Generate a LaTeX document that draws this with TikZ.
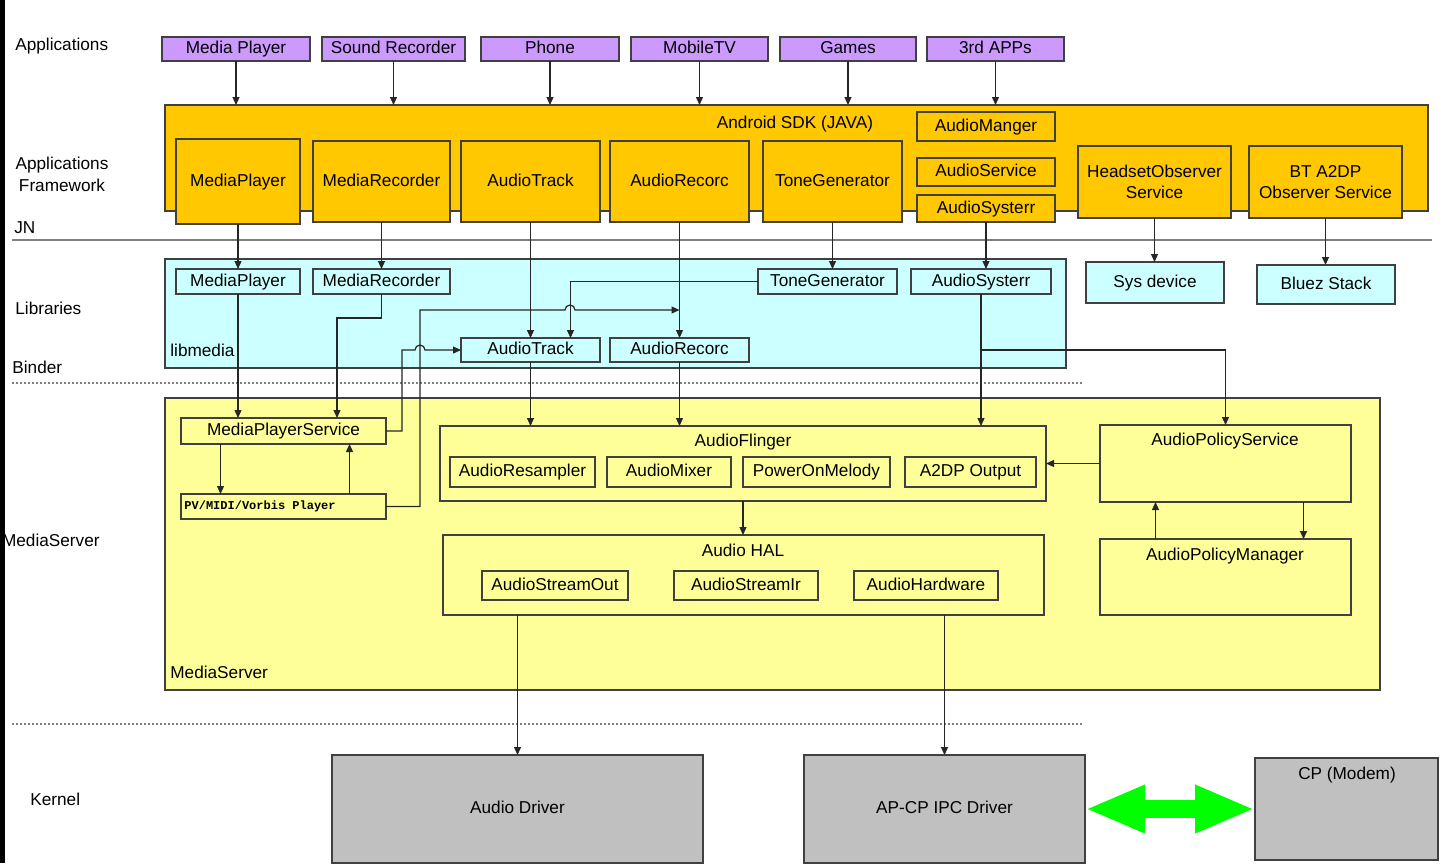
\documentclass[tikz,border=0pt]{standalone}
\usepackage{fontspec}
\setmainfont{Liberation Sans}
\newfontfamily\pvfont{Liberation Mono}
\usetikzlibrary{arrows.meta,fit}
\definecolor{appviolet}{RGB}{204,153,255}
\definecolor{sdkorange}{RGB}{255,200,0}
\definecolor{libcyan}{RGB}{204,255,255}
\definecolor{srvyellow}{RGB}{255,255,153}
\definecolor{kerngray}{RGB}{192,192,192}
\definecolor{edge}{RGB}{64,64,64}
\begin{document}
\begin{tikzpicture}[
    x=0.5pt, y=-0.5pt,
    font=\fontsize{8.6}{10.5}\selectfont,
    box/.style={draw=edge,line width=0.8pt,inner sep=0pt,outer sep=0pt},
    app/.style={box,fill=appviolet},
    fw/.style={box,fill=sdkorange},
    lib/.style={box,fill=libcyan},
    srv/.style={box,fill=srvyellow},
    kern/.style={box,fill=kerngray},
    txt/.style={inner sep=0pt,text height=6.3pt,text depth=1.8pt},
    txttwo/.style={inner sep=0pt,align=center},
    side/.style={inner sep=0pt,anchor=west,align=center},
    title/.style={inner sep=0pt,text height=6.3pt,text depth=1.8pt},
    pvtext/.style={anchor=west,xshift=1.5pt,inner sep=0pt,
        font=\pvfont\bfseries\fontsize{6}{7}\selectfont},
    arrow/.style={-{Triangle[length=4pt,width=3.5pt]},line width=0.6pt,draw=black!85},
    bigarrow/.style={{Triangle[length=30pt,width=22pt]}-{Triangle[length=30pt,width=22pt]},
        line width=9pt,draw=green},
    layer/.style={gray,line width=0.6pt,dash pattern=on 1.2pt off 0.8pt}
]
\useasboundingbox (0,0) rectangle (1446,863);
\clip (0,0) rectangle (1446,863);
\fill[white] (0,0) rectangle (1446,863);

\node[side] (lapps) at (15,46) {Applications};
\node[txttwo,font=\fontsize{8.6}{11}\selectfont] (lframe) at (62,174) {Applications\\Framework};
\node[side] (ljn) at (14,228) {JN};
\node[side] (llibs) at (15,308) {Libraries};
\node[side] (lbinder) at (12,367) {Binder};
\node[side,anchor=east] (lserver) at (100,540) {MediaServer};
\node[side] (lkernel) at (30,799) {Kernel};

\draw[gray,line width=1pt] (12,240) -- (1432,240);
\draw[layer] (12,383) -- (1082,383);
\draw[layer] (12,724) -- (1082,724);

\node[app,fit={(162,37)(310,61)},label={[txt]center:Media Player}] (aplayer) {};
\node[app,fit={(322,37)(465,61)},label={[txt]center:Sound Recorder}] (arecorder) {};
\node[app,fit={(481,37)(619,61)},label={[txt]center:Phone}] (aphone) {};
\node[app,fit={(631,37)(768,61)},label={[txt]center:MobileTV}] (atv) {};
\node[app,fit={(780,37)(916,61)},label={[txt]center:Games}] (agames) {};
\node[app,fit={(927,37)(1064,61)},label={[txt]center:3rd APPs}] (athird) {};

\node[fw,fit={(165,105)(1428,211)}] (sdk) {};
\node[title] (sdklabel) at (795,124) {Android SDK (JAVA)};
\node[fw,fit={(176,139)(300,224)},label={[txt]center:MediaPlayer}] (fwplayer) {};
\node[fw,fit={(313,141)(450,222)},label={[txt]center:MediaRecorder}] (fwrec) {};
\node[fw,fit={(461,141)(600,222)},label={[txt]center:AudioTrack}] (fwtrack) {};
\node[fw,fit={(610,141)(749,222)},label={[txt]center:AudioRecorc}] (fwarec) {};
\node[fw,fit={(763,141)(902,222)},label={[txt]center:ToneGenerator}] (fwtone) {};
\node[fw,fit={(917,112)(1055,141)},label={[txt]center:AudioManger}] (fwmgr) {};
\node[fw,fit={(917,158)(1055,186)},label={[txt]center:AudioService}] (fwsvc) {};
\node[fw,fit={(917,195)(1055,222)},label={[txt]center:AudioSysterr}] (fwsys) {};
\node[fw,fit={(1078,146)(1231,218)},label={[txttwo]center:{HeadsetObserver\\Service}}] (fwhead) {};
\node[fw,fit={(1249,146)(1402,218)},label={[txttwo]center:{BT A2DP\\Observer Service}}] (fwbt) {};

\node[lib,fit={(165,259)(1066,368)}] (libbox) {};
\node[side] (liblabel) at (170,350) {libmedia};
\node[lib,fit={(176,269)(300,294)},label={[txt]center:MediaPlayer}] (libplayer) {};
\node[lib,fit={(313,269)(450,294)},label={[txt]center:MediaRecorder}] (librec) {};
\node[lib,fit={(758,269)(897,294)},label={[txt]center:ToneGenerator}] (libtone) {};
\node[lib,fit={(911,269)(1051,294)},label={[txt]center:AudioSysterr}] (libsys) {};
\node[lib,fit={(461,338)(600,362)},label={[txt]center:AudioTrack}] (libtrack) {};
\node[lib,fit={(610,338)(749,362)},label={[txt]center:AudioRecorc}] (libarec) {};
\node[lib,fit={(1086,262)(1224,303)},label={[txt]center:Sys device}] (sysdev) {};
\node[lib,fit={(1257,265)(1395,304)},label={[txt]center:Bluez Stack}] (bluez) {};

\node[srv,fit={(165,398)(1380,690)}] (srvbox) {};
\node[side] (srvlabel) at (170,672) {MediaServer};
\node[srv,fit={(181,418)(386,444)},label={[txt]center:MediaPlayerService}] (mps) {};
\node[srv,fit={(181,494)(386,519)},label={[pvtext]west:PV/MIDI/Vorbis Player}] (pv) {};
\node[srv,fit={(440,426)(1046,501)}] (flinger) {};
\node[title] (flingerlabel) at (743,442) {AudioFlinger};
\node[srv,fit={(450,457)(595,487)},label={[txt]center:AudioResampler}] (resampler) {};
\node[srv,fit={(607,457)(731,487)},label={[txt]center:AudioMixer}] (mixer) {};
\node[srv,fit={(743,457)(890,487)},label={[txt]center:PowerOnMelody}] (melody) {};
\node[srv,fit={(905,457)(1036,487)},label={[txt]center:A2DP Output}] (a2dp) {};
\node[srv,fit={(443,535)(1044,615)}] (hal) {};
\node[title] (hallabel) at (743,552) {Audio HAL};
\node[srv,fit={(482,571)(628,600)},label={[txt]center:AudioStreamOut}] (sout) {};
\node[srv,fit={(674,571)(818,600)},label={[txt]center:AudioStreamIr}] (sin) {};
\node[srv,fit={(854,571)(998,600)},label={[txt]center:AudioHardware}] (hw) {};
\node[srv,fit={(1100,425)(1351,502)}] (aps) {};
\node[title] (apslabel) at (1225,441) {AudioPolicyService};
\node[srv,fit={(1100,539)(1351,615)}] (apm) {};
\node[title] (apmlabel) at (1225,556) {AudioPolicyManager};

\node[kern,fit={(332,755)(703,863)},label={[txt]center:Audio Driver}] (driver) {};
\node[kern,fit={(804,755)(1085,863)},label={[txt]center:AP-CP IPC Driver}] (ipc) {};
\node[kern,fit={(1255,758)(1438,860)}] (cp) {};
\node[title] (cplabel) at (1347,775) {CP (Modem)};

\foreach \a in {aplayer,arecorder,aphone,atv,agames,athird}
    \draw[arrow] (\a.south) -- (\a.south |- sdk.north);

\draw[arrow] (fwplayer.south) -- (fwplayer.south |- libplayer.north);
\draw[arrow] (fwrec.south) -- (fwrec.south |- librec.north);
\draw[arrow] (fwtrack.south) -- (fwtrack.south |- libtrack.north);
\draw[arrow] (fwarec.south) -- (fwarec.south |- libarec.north);
\draw[arrow] (fwtone.south) -- (fwtone.south |- libtone.north);
\draw[arrow] (fwsys.south) -- (fwsys.south |- libsys.north);
\draw[arrow] (fwhead.south) -- (fwhead.south |- sysdev.north);
\draw[arrow] (fwbt.south) -- (fwbt.south |- bluez.north);

\draw[arrow] (libtone.west) -| ([xshift=20pt]libtrack.north);
\draw[arrow] (pv.east) -| (420,310) -- (565,310)
    arc[start angle=180,end angle=360,radius=5] -- (libarec.north |- 0,310);
\draw[arrow] (mps.east) -| (402,350) -- (415,350)
    arc[start angle=180,end angle=360,radius=5] -- (libtrack.west);
\draw[arrow] (libplayer.south) -- (libplayer.south |- mps.north);
\draw[arrow] (librec.south) |- (337,318) -- (337,418);
\draw[arrow] (libtrack.south) -- (libtrack.south |- flinger.north);
\draw[arrow] (libarec.south) -- (libarec.south |- flinger.north);
\draw[arrow] (libsys.south) -- (libsys.south |- flinger.north);
\draw[arrow] (libsys.south |- libtrack.east) -| (aps.north);

\draw[arrow] ([xshift=-31.5pt]mps.south) -- ([xshift=-31.5pt]pv.north);
\draw[arrow] ([xshift=33pt]pv.north) -- ([xshift=33pt]mps.south);
\draw[arrow] (aps.west) -- (aps.west -| flinger.east);
\draw[arrow] ([xshift=-35pt]apm.north) -- ([xshift=-35pt]aps.south);
\draw[arrow] ([xshift=39pt]aps.south) -- ([xshift=39pt]apm.north);
\draw[arrow] (flinger.south) -- (flinger.south |- hal.north);
\draw[arrow] (driver.north |- hal.south) -- (driver.north);
\draw[arrow] (ipc.north |- hal.south) -- (ipc.north);

\draw[bigarrow] (ipc.east) -- (cp.west);

\fill[black] (0,0) rectangle (5,863);
\end{tikzpicture}
\end{document}
